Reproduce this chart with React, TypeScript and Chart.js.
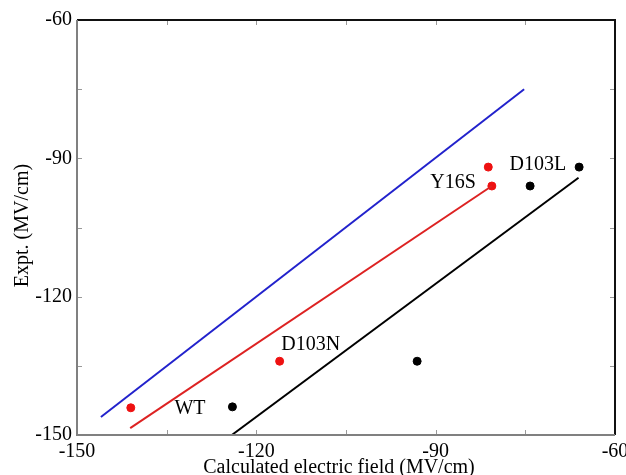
import React, { useEffect, useRef } from "react";
import { Chart, registerables } from "chart.js";

Chart.register(...registerables);

// Data (MV/cm)
const blackX = [-124.0, -93.1, -74.2, -66.0];
const blackY = [-143.9, -134.0, -96.0, -91.9];
const redX = [-141.0, -116.1, -81.2, -80.6];
const redY = [-144.1, -134.0, -91.9, -96.0];

const blueLineX = [-146.0, -75.2];
const blueLineY = [-146.1, -75.0];
const redLineX = [-141.1, -80.6];
const redLineY = [-148.5, -96.0];
const blackLineX = [-124.1, -66.1];
const blackLineY = [-150.0, -94.2];

const labelNames = ["WT", "D103N", "Y16S", "D103L"];
const labelX = [-131.1, -110.9, -87.1, -72.9];
const labelY = [-144.4, -130.5, -95.3, -91.4];

const axisMin = -150;
const axisMax = -60;
const tickStep = 15;
const labelStep = 30;

const xTitle = "Calculated electric field (MV/cm)";
const yTitle = "Expt. (MV/cm)";

const SERIF = "'Liberation Serif', 'Times New Roman', serif";

const toPts = (xs: number[], ys: number[]) => xs.map((x, i) => ({ x, y: ys[i] }));

const framePlugin = {
  id: "frameAndLabels",
  afterDraw(chart: any) {
    const { ctx, chartArea } = chart;
    const { left, right, top, bottom } = chartArea;
    const xs = chart.scales.x;
    const ys = chart.scales.y;
    ctx.save();
    // inward ticks
    ctx.strokeStyle = "#999999";
    ctx.lineWidth = 1;
    const tl = 5;
    xs.ticks.forEach((t: any) => {
      const px = Math.round(xs.getPixelForValue(t.value)) + 0.5;
      ctx.beginPath();
      ctx.moveTo(px, bottom);
      ctx.lineTo(px, bottom - tl);
      ctx.moveTo(px, top);
      ctx.lineTo(px, top + tl);
      ctx.stroke();
    });
    ys.ticks.forEach((t: any) => {
      const py = Math.round(ys.getPixelForValue(t.value)) + 0.5;
      ctx.beginPath();
      ctx.moveTo(left, py);
      ctx.lineTo(left + tl, py);
      ctx.moveTo(right, py);
      ctx.lineTo(right - tl, py);
      ctx.stroke();
    });
    // frame
    ctx.lineWidth = 2;
    ctx.strokeStyle = "#111111";
    ctx.beginPath();
    ctx.moveTo(left, top);
    ctx.lineTo(right, top);
    ctx.lineTo(right, bottom);
    ctx.stroke();
    ctx.strokeStyle = "#808080";
    ctx.beginPath();
    ctx.moveTo(left, top);
    ctx.lineTo(left, bottom);
    ctx.lineTo(right, bottom);
    ctx.stroke();
    // point labels
    ctx.fillStyle = "#000000";
    ctx.font = `20px ${SERIF}`;
    ctx.textAlign = "center";
    ctx.textBaseline = "middle";
    labelNames.forEach((name, i) => {
      ctx.fillText(name, xs.getPixelForValue(labelX[i]), ys.getPixelForValue(labelY[i]));
    });
    // axis titles
    ctx.textBaseline = "alphabetic";
    ctx.fillText(xTitle, (left + right) / 2 - 7, 473);
    ctx.save();
    ctx.translate(28, (top + bottom) / 2 - 2);
    ctx.rotate(-Math.PI / 2);
    ctx.fillText(yTitle, 0, 0);
    ctx.restore();
    ctx.restore();
  },
};

export default function App() {
  const canvasRef = useRef<HTMLCanvasElement | null>(null);

  useEffect(() => {
    if (!canvasRef.current) return;
    const chart = new Chart(canvasRef.current, {
      type: "scatter",
      data: {
        datasets: [
          {
            data: toPts(blueLineX, blueLineY),
            showLine: true,
            borderColor: "#2222cc",
            borderWidth: 2,
            pointRadius: 0,
          },
          {
            data: toPts(redLineX, redLineY),
            showLine: true,
            borderColor: "#dd2222",
            borderWidth: 2,
            pointRadius: 0,
          },
          {
            data: toPts(blackLineX, blackLineY),
            showLine: true,
            borderColor: "#000000",
            borderWidth: 2,
            pointRadius: 0,
          },
          {
            data: toPts(redX, redY),
            showLine: false,
            backgroundColor: "#ee1111",
            borderColor: "#ee1111",
            pointRadius: 4,
          },
          {
            data: toPts(blackX, blackY),
            showLine: false,
            backgroundColor: "#000000",
            borderColor: "#000000",
            pointRadius: 4,
          },
        ],
      },
      options: {
        animation: false,
        responsive: false,
        devicePixelRatio: 1,
        layout: { padding: { top: 20, right: 11, left: 0, bottom: 0 } },
        plugins: { legend: { display: false }, tooltip: { enabled: false } },
        scales: {
          x: {
            type: "linear",
            min: axisMin,
            max: axisMax,
            border: { display: false },
            grid: { display: false, drawTicks: false },
            ticks: {
              stepSize: tickStep,
              autoSkip: false,
              maxRotation: 0,
              padding: 5,
              color: "#000",
              font: { family: SERIF, size: 20 },
              callback: (v: any) => (Number(v) % labelStep === 0 ? String(v) : ""),
            },
            title: { display: false, text: xTitle },
            afterFit: (s: any) => {
              s.height = 40;
              s.paddingLeft = 0;
              s.paddingRight = 0;
            },
          },
          y: {
            type: "linear",
            min: axisMin,
            max: axisMax,
            border: { display: false },
            grid: { display: false, drawTicks: false },
            ticks: {
              stepSize: tickStep,
              autoSkip: false,
              padding: 5,
              color: "#000",
              font: { family: SERIF, size: 20 },
              callback: (v: any) => (Number(v) % labelStep === 0 ? String(v) : ""),
            },
            title: { display: false, text: yTitle },
            afterFit: (s: any) => {
              s.width = 77;
              s.paddingTop = 0;
              s.paddingBottom = 0;
            },
          },
        },
      },
      plugins: [framePlugin],
    } as any);
    return () => chart.destroy();
  }, []);

  return (
    <div style={{ position: "fixed", left: 0, top: 0, width: 626, height: 475, background: "#fff" }}>
      <canvas ref={canvasRef} width={626} height={475} style={{ display: "block" }} />
    </div>
  );
}
